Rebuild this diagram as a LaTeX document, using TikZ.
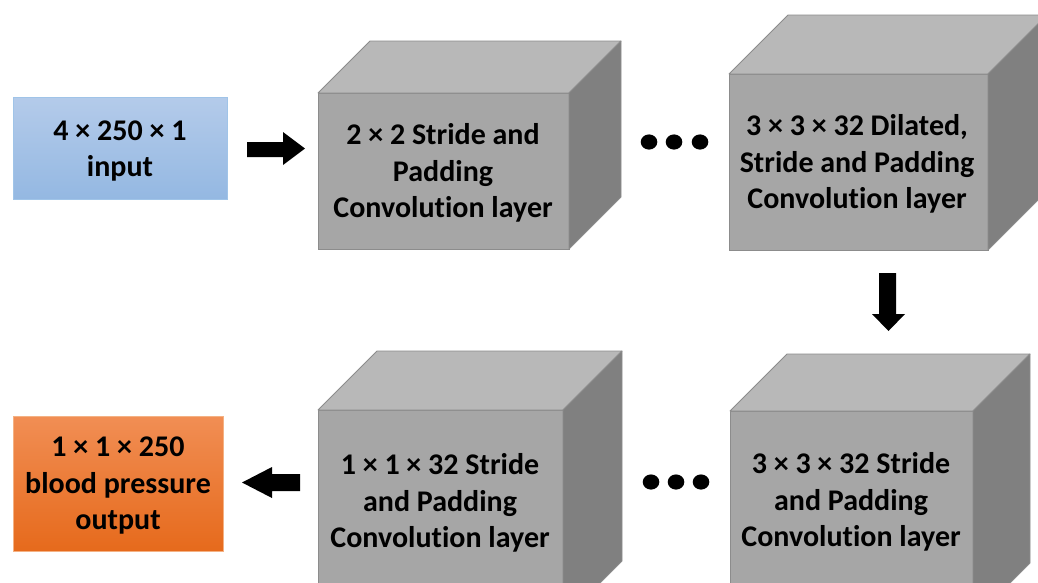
\documentclass[tikz,border=0pt]{standalone}
\usepackage{fontspec}
\setmainfont{Carlito}[Ligatures=NoCommon]
\definecolor{frontc}{RGB}{166,166,166}
\definecolor{topc}{RGB}{184,184,184}
\definecolor{sidec}{RGB}{128,128,128}
\definecolor{edgec}{RGB}{140,140,140}
\definecolor{bluetop}{RGB}{180,203,234}
\definecolor{bluebot}{RGB}{148,184,226}
\definecolor{blueedge}{RGB}{160,196,232}
\definecolor{orangetop}{RGB}{241,142,84}
\definecolor{orangebot}{RGB}{230,106,28}
\definecolor{orangeedge}{RGB}{244,177,131}
\newcommand\cnncube[5]{%
  \filldraw[fill=frontc,draw=edgec,line width=0.8pt] (#1,#2) rectangle (#3,#4);
  \filldraw[fill=topc,draw=edgec,line width=0.8pt,line join=round] (#1,#2) -- (#1+#5,#2-#5) -- (#3+#5,#2-#5) -- (#3,#2) -- cycle;
  \filldraw[fill=sidec,draw=edgec,line width=0.8pt,line join=round] (#3,#2) -- (#3+#5,#2-#5) -- (#3+#5,#4-#5) -- (#3,#4) -- cycle;
}
\begin{document}
\begin{tikzpicture}[x=1pt,y=-1pt,
  lbl/.style={align=center,font=\bfseries\fontsize{30}{36.5}\selectfont,text=black,inner sep=0pt},
  inbox/.style={shading=axis,top color=bluetop,bottom color=bluebot,draw=blueedge,line width=0.8pt,minimum width=214pt,minimum height=102pt},
  outbox/.style={shading=axis,top color=orangetop,bottom color=orangebot,draw=orangeedge,line width=0.8pt,minimum width=210pt,minimum height=135pt},
  blockarrow/.style={fill=black},
  dot/.style={fill=black}]
\useasboundingbox (0,0) rectangle (1038,582);
\begin{scope}
\clip (0,0) rectangle (1038,582);
\cnncube{318}{93}{569}{249}{52}
\cnncube{729}{74}{988}{250}{59}
\cnncube{318}{410}{563}{620}{59}
\cnncube{730}{411}{973}{620}{57}
\end{scope}
% layer labels
\node[lbl] (c1) at (443,173) {2 × 2 Stride and\\Padding\\Convolution layer};
\node[lbl] (c2) at (857,164) {3 × 3 × 32 Dilated,\\Stride and Padding\\Convolution layer};
\node[lbl] (c3) at (440,503) {1 × 1 × 32 Stride\\and Padding\\Convolution layer};
\node[lbl] (c4) at (851,502) {3 × 3 × 32 Stride\\and Padding\\Convolution layer};
% input / output
\node[inbox] (input) at (120,148) {};
\node[lbl] (inputtxt) at (120,151) {4 × 250 × 1\\input};
\node[outbox] (output) at (118,483.5) {};
\node[lbl] (outputtxt) at (118,486) {1 × 1 × 250\\blood pressure\\output};
% block arrows
\fill[blockarrow] (247,142) -- (283,142) -- (283,132) -- (305,148.5) -- (283,165) -- (283,157) -- (247,157) -- cycle;
\fill[blockarrow] (879,273) -- (896,273) -- (896,314) -- (905,314) -- (888.5,331) -- (872,314) -- (879,314) -- cycle;
\fill[blockarrow] (300,474) -- (272,474) -- (272,467) -- (242,482.5) -- (272,498) -- (272,491) -- (300,491) -- cycle;
% dots
\foreach \x in {649,674,700} {\fill[dot] (\x,142) ellipse [x radius=8.3, y radius=7.6];}
\foreach \x in {651,676,701} {\fill[dot] (\x,482) ellipse [x radius=8.3, y radius=7.6];}
\end{tikzpicture}
\end{document}
